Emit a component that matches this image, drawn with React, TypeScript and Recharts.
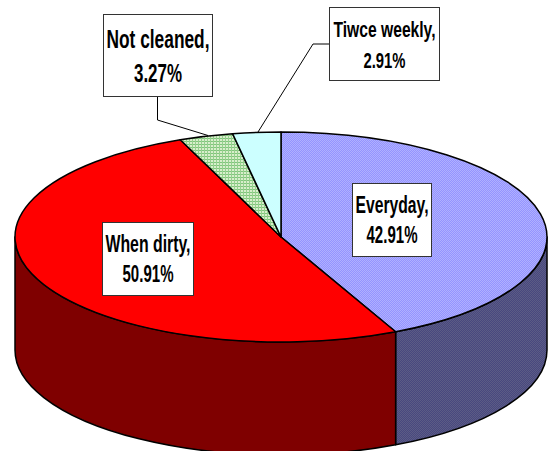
import React from "react";
import { PieChart, Pie, Cell } from "recharts";

const categories = ["Everyday", "When dirty", "Not cleaned", "Tiwce weekly"];
const shares = [42.91, 50.91, 3.27, 2.91];
const topFills = ["url(#dotsBlue)", "#ff0000", "url(#gridGreen)", "#ccffff"];
const wallFills = ["url(#hatchBlue)", "#7f0000", "#5f7f55", "#667f7f"];

const W = 548;
const H = 451;
const CX = 281;
const CY = 237;
const RX = 266;
const RY = 105;
const DEPTH = 113;

const labelBoxes = [
  { x: 352.5, y: 183.5, w: 79, h: 73, size: 23, base: [213, 243], widths: [73, 51] },
  { x: 102.5, y: 222.5, w: 91, h: 73, size: 23, base: [252, 282], widths: [85, 51] },
  { x: 103.5, y: 14.5, w: 109, h: 82, size: 26, base: [48, 82], widths: [103, 48], leader: "157.5,96 157.5,120 208,135.5" },
  { x: 329.5, y: 7.5, w: 110, h: 73, size: 22, base: [37, 68], widths: [102, 42], leader: "329,44 313,44 258,132" },
];

const data = categories.map((name, i) => ({ name, value: shares[i] }));
const FONT = "'Liberation Sans',Arial,sans-serif";

const pt = (a: number, dy = 0) => {
  const r = (a * Math.PI) / 180;
  return [CX + RX * Math.cos(r), CY - RY * Math.sin(r) + dy];
};

// Elliptical top face of one slice, from the angles that Pie computed.
function TopFace(props: any) {
  const { startAngle, endAngle, fill } = props;
  const [x1, y1] = pt(startAngle);
  const [x2, y2] = pt(endAngle);
  const large = Math.abs(startAngle - endAngle) > 180 ? 1 : 0;
  return (
    <path
      d={`M${CX},${CY}L${x1},${y1}A${RX},${RY} 0 ${large} 1 ${x2},${y2}Z`}
      fill={fill}
      stroke="#000"
      strokeWidth={1.5}
      strokeLinejoin="round"
    />
  );
}

// Visible side wall of one slice: only the front half of the ellipse.
function Wall(props: any) {
  const { startAngle, endAngle, fill } = props;
  const hi = Math.min(startAngle, 0);
  const lo = Math.max(endAngle, -180);
  if (hi <= lo) return null;
  const [x1, y1] = pt(hi);
  const [x2, y2] = pt(lo);
  const [x3, y3] = pt(lo, DEPTH);
  const [x4, y4] = pt(hi, DEPTH);
  return (
    <path
      d={`M${x1},${y1}A${RX},${RY} 0 0 1 ${x2},${y2}L${x3},${y3}A${RX},${RY} 0 0 0 ${x4},${y4}Z`}
      fill={fill}
      stroke="#000"
      strokeWidth={1.5}
      strokeLinejoin="round"
    />
  );
}

function SliceLabel(props: any) {
  const { index, name, value } = props;
  const b = labelBoxes[index];
  const lines = [`${name},`, `${Number(value).toFixed(2)}%`];
  return (
    <g>
      {b.leader && <polyline points={b.leader} fill="none" stroke="#000" strokeWidth={1} />}
      <rect x={b.x} y={b.y} width={b.w} height={b.h} fill="#fff" stroke="#333" strokeWidth={1} />
      {lines.map((t, i) => (
        <text
          key={t}
          x={b.x + b.w / 2}
          y={b.base[i]}
          textAnchor="middle"
          fontFamily={FONT}
          fontWeight="bold"
          fontSize={b.size}
          textLength={b.widths[i]}
          lengthAdjust="spacingAndGlyphs"
          fill="#000"
        >
          {t}
        </text>
      ))}
    </g>
  );
}

const pieProps = {
  data,
  dataKey: "value",
  nameKey: "name",
  cx: CX,
  cy: CY,
  innerRadius: 0,
  outerRadius: RX,
  startAngle: 90,
  endAngle: -270,
  isAnimationActive: false,
};

export default function App() {
  return (
    <div style={{ position: "absolute", left: 0, top: 0, width: W, height: H }}>
      <PieChart width={W} height={H} margin={{ top: 0, right: 0, bottom: 0, left: 0 }}>
        <defs>
          <pattern id="dotsBlue" width="2" height="2" patternUnits="userSpaceOnUse">
            <rect width="2" height="2" fill="#9494ff" />
            <rect width="1" height="1" fill="#b0b0ff" />
            <rect x="1" y="1" width="1" height="1" fill="#b0b0ff" />
          </pattern>
          <pattern id="hatchBlue" width="2" height="2" patternUnits="userSpaceOnUse">
            <rect width="2" height="2" fill="#48487f" />
            <rect width="1" height="1" fill="#5c5c85" />
            <rect x="1" y="1" width="1" height="1" fill="#5c5c85" />
          </pattern>
          <pattern id="gridGreen" width="3" height="3" patternUnits="userSpaceOnUse">
            <rect width="3" height="3" fill="#d8eecb" />
            <rect width="3" height="1" fill="#80c67c" />
            <rect width="1" height="3" fill="#96d08e" />
          </pattern>
        </defs>
        <Pie {...pieProps} shape={Wall} label={false} labelLine={false}>
          {data.map((e, i) => (
            <Cell key={e.name} fill={wallFills[i]} />
          ))}
        </Pie>
        <Pie {...pieProps} shape={TopFace} label={SliceLabel} labelLine={false}>
          {data.map((e, i) => (
            <Cell key={e.name} fill={topFills[i]} />
          ))}
        </Pie>
      </PieChart>
    </div>
  );
}
